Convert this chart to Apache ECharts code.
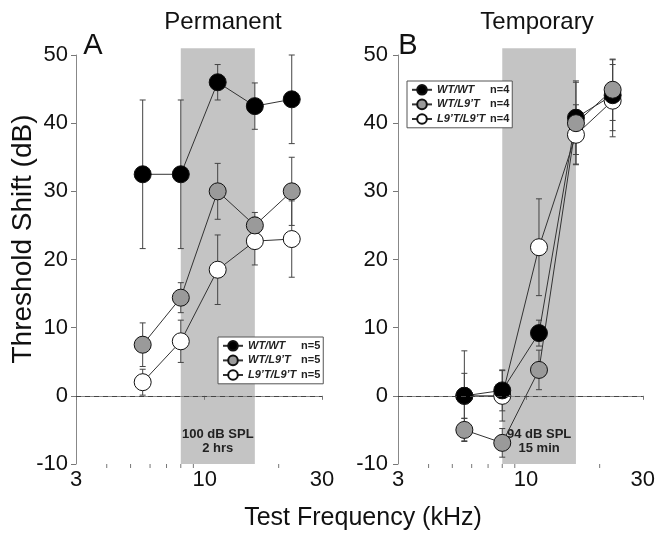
<!DOCTYPE html>
<html>
<head>
<meta charset="utf-8">
<script src="https://cdn.jsdelivr.net/npm/echarts@6/dist/echarts.min.js"></script>
<style>
html,body{margin:0;padding:0;background:#fff;}
#main{width:658px;height:533px;}
</style>
</head>
<body>
<div id="main"></div>
<script>
// test frequencies (kHz), half-octave steps
var freqs = [5.6, 8, 11.3, 16, 22.6];
var minorTicks = [4, 5, 6, 7, 8, 9, 20];
var genotypes = ['WT/WT', 'WT/L9’T', 'L9’T/L9’T'];
var panelTitles = ['Permanent', 'Temporary'];
var panelLetters = ['A', 'B'];
var nLabels = ['n=5', 'n=4'];
var band = [8, 16];
var bandLabels = ['100 dB SPL\n2 hrs', '94 dB SPL\n15 min'];

// A: permanent shift (mean, error)
var permWT = [32.5, 32.5, 46, 42.5, 43.5];
var permWTerr = [10.9, 10.9, 2.6, 3.4, 6.5];
var permHet = [7.5, 14.4, 30, 25, 30];
var permHetErr = [3.2, 2.2, 4.1, 1.9, 5];
var permHom = [2, 8, 18.5, 22.7, 23];
var permHomErr = [1.9, 3.1, 5.1, 3.5, 5.6];

// B: temporary shift
var tempWT = [0, 0.8, 9.2, 40.8, 44.1];
var tempWTerr = [6.6, 3, 1.9, 5.4, 5.2];
var tempHet = [-5, -6.9, 3.8, 40, 44.9];
var tempHetErr = [1.7, 2.1, 2.9, 6.0, 4.5];
var tempHom = [0, 0, 21.8, 38.3, 43.3];
var tempHomErr = [3.3, 3.7, 7.1, 4.4, 5.3];

var FONT = '"Liberation Sans", Arial, Helvetica, sans-serif';
var fills = {'WT/WT': '#000', 'WT/L9’T': '#9a9a9a', 'L9’T/L9’T': '#fff'};

var myChart = echarts.init(document.getElementById('main'));

function lineSeries(name, vals, g){
    return {
        type: 'line', name: name, xAxisIndex: g, yAxisIndex: g,
        data: freqs.map(function(f, i){ return [f, vals[i]]; }),
        symbol: 'circle', symbolSize: 17,
        itemStyle: {color: fills[name], borderColor: '#111', borderWidth: 1},
        lineStyle: {color: '#333', width: 1},
        z: 3, animation: false
    };
}

function errSeries(vals, errs, g){
    return {
        type: 'custom', xAxisIndex: g, yAxisIndex: g, z: 2, silent: true, clip: false,
        encode: {x: 0, y: 1},
        data: freqs.map(function(f, i){ return [f, vals[i], errs[i]]; }),
        renderItem: function(params, api){
            var x = api.value(0), y = api.value(1), e = api.value(2);
            var t = api.coord([x, y + e]), b = api.coord([x, y - e]);
            var st = {stroke: '#444', lineWidth: 1};
            return {type: 'group', children: [
                {type: 'line', shape: {x1: t[0], y1: t[1], x2: b[0], y2: b[1]}, style: st},
                {type: 'line', shape: {x1: t[0]-3, y1: t[1], x2: t[0]+3, y2: t[1]}, style: st},
                {type: 'line', shape: {x1: b[0]-3, y1: b[1], x2: b[0]+3, y2: b[1]}, style: st}
            ]};
        },
        animation: false
    };
}

function bandSeries(g){
    return {
        type: 'custom', xAxisIndex: g, yAxisIndex: g, z: 0, silent: true, clip: false,
        data: [[band[0], -10, band[1], 51]],
        renderItem: function(params, api){
            var p1 = api.coord([api.value(0), api.value(1)]);
            var p2 = api.coord([api.value(2), api.value(3)]);
            return {type: 'group', children: [
                {type: 'rect', shape: {x: p1[0], y: p2[1], width: p2[0]-p1[0], height: p1[1]-p2[1]},
                 style: {fill: '#c4c4c4'}},
                {type: 'text', x: (p1[0]+p2[0])/2, y: p1[1]-9,
                 style: {text: bandLabels[g], align: 'center', verticalAlign: 'bottom',
                         textAlign: 'center', textVerticalAlign: 'bottom',
                         font: 'bold 13px ' + FONT, lineHeight: 14, fill: '#222'}}
            ]};
        },
        animation: false
    };
}

function tickSeries(g){
    return {
        type: 'custom', xAxisIndex: g, yAxisIndex: g, z: 1, silent: true, clip: false,
        data: minorTicks.map(function(v){ return [v, -10]; }),
        renderItem: function(params, api){
            var p = api.coord([api.value(0), api.value(1)]);
            return {type: 'line', shape: {x1: p[0], y1: p[1], x2: p[0], y2: p[1]+4},
                    style: {stroke: '#777', lineWidth: 1}};
        },
        animation: false
    };
}

function zeroSeries(g){
    return {
        type: 'line', xAxisIndex: g, yAxisIndex: g, data: [], z: 1, animation: false,
        markLine: {
            silent: true, symbol: ['none', 'none'], animation: false,
            lineStyle: {color: '#444', type: [5, 4], width: 1},
            label: {show: false},
            data: [{yAxis: 0}]
        }
    };
}

function legendFor(g, left, top){
    return {
        orient: 'vertical', left: left, top: top,
        data: genotypes, selectedMode: false,
        backgroundColor: '#fff', borderColor: '#555', borderWidth: 1,
        padding: [3, 3, 3, 4], itemGap: 3, itemWidth: 20, itemHeight: 12,
        formatter: function(name){ return '{g|' + name + '}{n|' + nLabels[g] + '}'; },
        textStyle: {
            color: '#222', padding: [0, 0, 0, 0],
            rich: {
                g: {width: 53, fontStyle: 'italic', fontWeight: 'bold', fontSize: 11, fontFamily: FONT, lineHeight: 12},
                n: {fontWeight: 'bold', fontSize: 11, fontFamily: FONT, lineHeight: 12}
            }
        }
    };
}

function xAxisFor(g){
    return {
        type: 'log', logBase: 10, min: 3, max: 30, gridIndex: g,
        axisLine: {show: true, lineStyle: {color: '#888'}},
        axisTick: {show: true, length: 4, lineStyle: {color: '#777'}},
        axisLabel: {fontSize: 22, color: '#111', fontFamily: FONT, margin: 5},
        splitLine: {show: false}, minorTick: {show: false}
    };
}

function yAxisFor(g){
    return {
        type: 'value', min: -10, max: 50, interval: 10, gridIndex: g,
        axisLine: {show: true, lineStyle: {color: '#888'}},
        axisTick: {show: true, length: 5, lineStyle: {color: '#777'}},
        axisLabel: {fontSize: 22, color: '#111', fontFamily: FONT, margin: g === 0 ? 8 : 10},
        splitLine: {show: false}
    };
}

function txt(text, x, y, size, rot){
    return {type: 'text', x: x, y: y, rotation: rot || 0, silent: true,
        style: {text: text, font: size + 'px ' + FONT, fill: '#111',
                align: 'center', verticalAlign: 'middle',
                textAlign: 'center', textVerticalAlign: 'middle'}};
}

var option = {
    backgroundColor: '#fff',
    animation: false,
    grid: [
        {left: 76, top: 55, width: 246, height: 409},
        {left: 398, top: 55, width: 245, height: 409}
    ],
    xAxis: [xAxisFor(0), xAxisFor(1)],
    yAxis: [yAxisFor(0), yAxisFor(1)],
    legend: [legendFor(0, 218, 337), legendFor(1, 407, 81)],
    graphic: [
        txt(panelTitles[0], 223, 22, 24),
        txt(panelTitles[1], 537, 22, 24),
        txt(panelLetters[0], 93, 46, 29),
        txt(panelLetters[1], 408, 46, 29),
        txt('Threshold Shift (dB)', 23, 239, 28, Math.PI / 2),
        txt('Test Frequency (kHz)', 363, 518, 25)
    ],
    series: [
        bandSeries(0), bandSeries(1),
        tickSeries(0), tickSeries(1),
        zeroSeries(0), zeroSeries(1),
        errSeries(permHom, permHomErr, 0),
        errSeries(permWT, permWTerr, 0),
        errSeries(permHet, permHetErr, 0),
        errSeries(tempHom, tempHomErr, 1),
        errSeries(tempWT, tempWTerr, 1),
        errSeries(tempHet, tempHetErr, 1),
        lineSeries(genotypes[2], permHom, 0),
        lineSeries(genotypes[0], permWT, 0),
        lineSeries(genotypes[1], permHet, 0),
        lineSeries(genotypes[2], tempHom, 1),
        lineSeries(genotypes[0], tempWT, 1),
        lineSeries(genotypes[1], tempHet, 1)
    ]
};

myChart.setOption(option);
</script>
</body>
</html>
